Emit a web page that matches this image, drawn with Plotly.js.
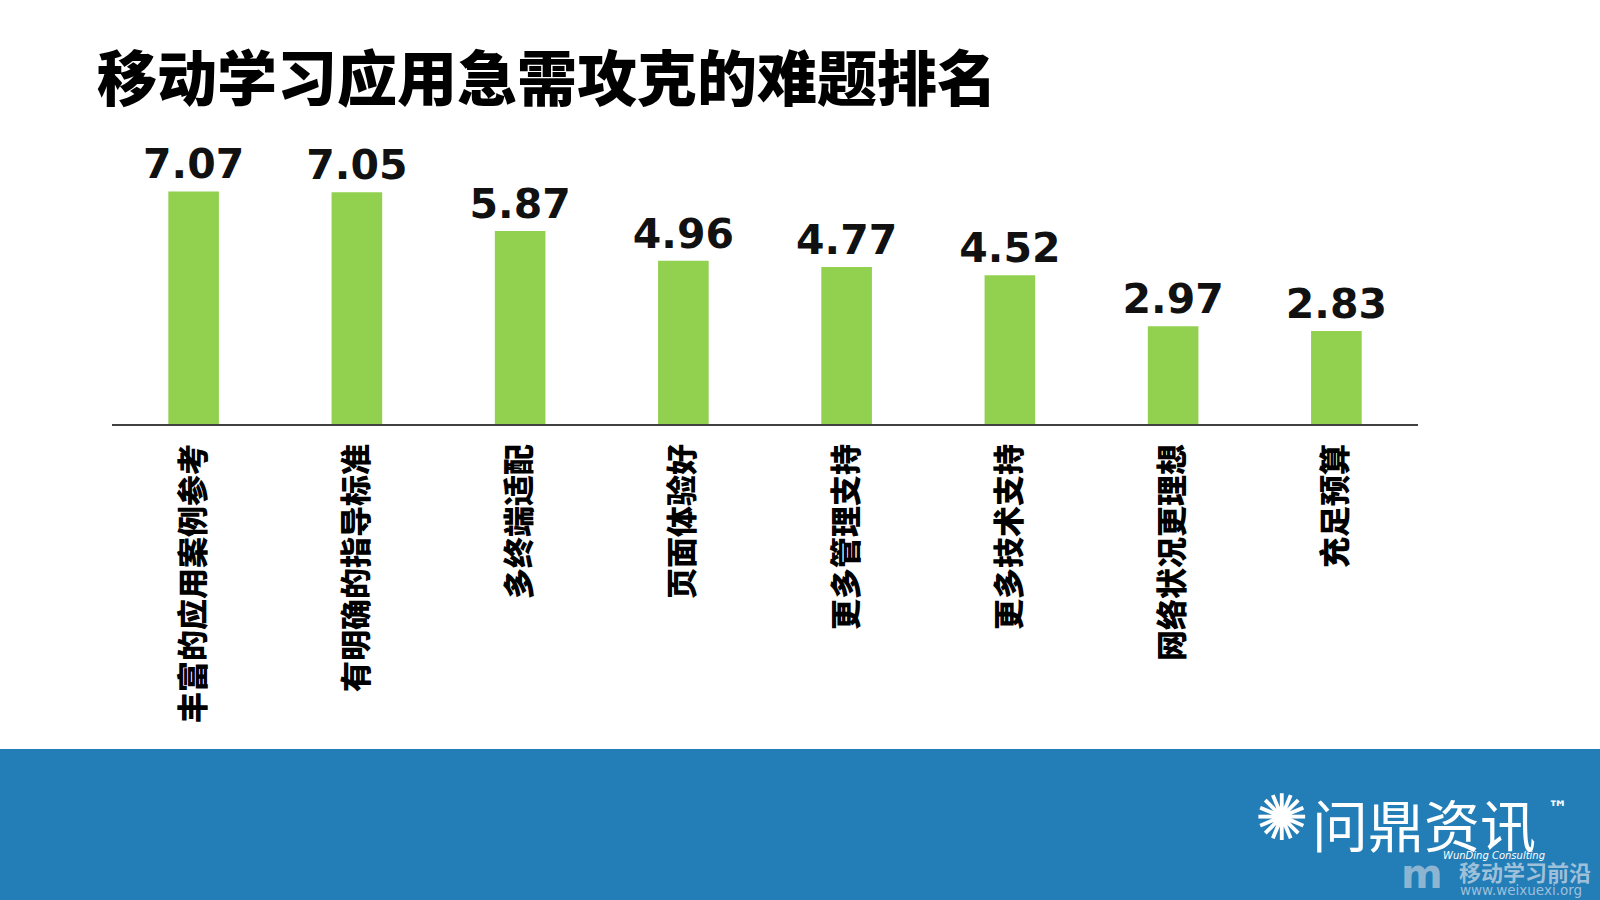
<!DOCTYPE html>
<html>
<head>
<meta charset="utf-8">
<script src="https://cdn.plot.ly/plotly-3.0.1.min.js"></script>
<style>
  html, body { margin: 0; padding: 0; background: #ffffff; }
  #chart { width: 1600px; height: 900px; }
</style>
</head>
<body>
<div id="chart"></div>
<script>
// ---- data ----
const chartTitle = "移动学习应用急需攻克的难题排名";
const categories = ["丰富的应用案例参考", "有明确的指导标准", "多终端适配", "页面体验好", "更多管理支持", "更多技术支持", "网络状况更理想", "充足预算"];
const scores = [7.07, 7.05, 5.87, 4.96, 4.77, 4.52, 2.97, 2.83];
const valueLabels = ["7.07", "7.05", "5.87", "4.96", "4.77", "4.52", "2.97", "2.83"];
const logoText = "问鼎资讯";
const logoSubText = "WunDing Consulting";
const watermarkText = "移动学习前沿";
const watermarkUrl = "www.weixuexi.org";

// ---- layout geometry (pixels) ----
const W = 1600, H = 900;
const M = { l: 112, r: 182, t: 128, b: 476 };
const plotW = W - M.l - M.r, plotH = H - M.t - M.b;
const px = x => (x - M.l) / plotW;          // pixel x -> paper x
const py = y => (H - M.b - y) / plotH;       // pixel y -> paper y

const CJK = '"Noto Sans CJK SC", "Noto Sans", sans-serif';

const trace = {
  type: 'bar',
  x: categories,
  y: scores,
  text: valueLabels,
  textposition: 'outside',
  constraintext: 'none',
  cliponaxis: false,
  textfont: { family: '"DejaVu Sans", Verdana, sans-serif', size: 41, color: '#111111', weight: 700 },
  marker: { color: '#92D050', line: { width: 0 } },
  width: 0.31,
  hoverinfo: 'skip'
};

const layout = {
  width: W, height: H,
  margin: M,
  paper_bgcolor: '#ffffff',
  plot_bgcolor: 'rgba(0,0,0,0)',
  showlegend: false,
  bargap: 0.69,
  title: {
    text: chartTitle,
    font: { family: CJK, size: 60, color: '#000000', weight: 900 },
    xref: 'container', yref: 'container',
    x: 97 / W, xanchor: 'left',
    y: 1 - 80 / H, yanchor: 'middle'
  },
  xaxis: {
    type: 'category',
    showline: true, linecolor: '#404040', linewidth: 1.5,
    ticks: '', showgrid: false, zeroline: false,
    tickangle: -90,
    ticklabelstandoff: 6,
    tickfont: { family: CJK, size: 31, color: '#000000', weight: 900 },
    fixedrange: true
  },
  yaxis: {
    range: [0, 9],
    visible: false, showgrid: false, zeroline: false,
    fixedrange: true
  },
  shapes: [
    { type: 'rect', xref: 'paper', yref: 'paper', layer: 'below',
      x0: px(0), x1: px(W), y0: py(H), y1: py(749),
      fillcolor: '#237db7', line: { width: 0 } }
  ],
  annotations: [
    { xref: 'paper', yref: 'paper', x: px(1282), y: py(818), xanchor: 'center', yanchor: 'middle',
      text: '✺', showarrow: false, font: { family: '"DejaVu Sans", sans-serif', size: 64, color: '#ffffff' } },
    { xref: 'paper', yref: 'paper', x: px(1310), y: py(822), xanchor: 'left', yanchor: 'middle',
      text: logoText, showarrow: false, font: { family: CJK, size: 56, color: '#ffffff', weight: 400 } },
    { xref: 'paper', yref: 'paper', x: px(1546), y: py(808), xanchor: 'left', yanchor: 'middle',
      text: '™', showarrow: false, font: { family: '"DejaVu Sans", sans-serif', size: 20, color: '#ffffff', weight: 700 } },
    { xref: 'paper', yref: 'paper', x: px(1494), y: py(855), xanchor: 'center', yanchor: 'middle',
      text: '<i>' + logoSubText + '</i>', showarrow: false, font: { family: '"DejaVu Sans", sans-serif', size: 10, color: '#ffffff' } },
    { xref: 'paper', yref: 'paper', x: px(1422), y: py(874), xanchor: 'center', yanchor: 'middle',
      text: '<b>m</b>', showarrow: false, font: { family: '"DejaVu Sans", sans-serif', size: 40, color: 'rgba(190,205,220,0.7)' } },
    { xref: 'paper', yref: 'paper', x: px(1457), y: py(871), xanchor: 'left', yanchor: 'middle',
      text: '<b>' + watermarkText + '</b>', showarrow: false, font: { family: CJK, size: 22, color: 'rgba(200,215,228,0.75)' } },
    { xref: 'paper', yref: 'paper', x: px(1458), y: py(890), xanchor: 'left', yanchor: 'middle',
      text: watermarkUrl, showarrow: false, font: { family: '"DejaVu Sans", sans-serif', size: 13.5, color: 'rgba(200,215,228,0.75)' } }
  ]
};

Plotly.newPlot('chart', [trace], layout, { displayModeBar: false, staticPlot: true });
</script>
</body>
</html>
